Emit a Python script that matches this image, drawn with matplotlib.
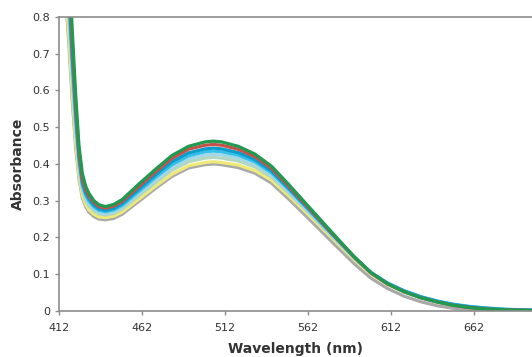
import matplotlib.pyplot as plt

wavelength = [416, 418, 420, 422, 424, 426, 428, 430, 433, 436, 440, 445, 450,
              460, 470, 480, 490, 500, 505, 510, 520, 530, 540, 550, 560, 570,
              580, 590, 600, 610, 620, 630, 640, 650, 660, 670, 680, 690, 700]

gray = [0.85, 0.72, 0.57, 0.445, 0.36, 0.308, 0.284, 0.269, 0.257, 0.250, 0.248, 0.252, 0.263,
        0.298, 0.333, 0.366, 0.389, 0.398, 0.400, 0.398, 0.390, 0.375, 0.348, 0.306, 0.262, 0.217,
        0.172, 0.128, 0.089, 0.061, 0.040, 0.025, 0.014, 0.007, 0.003, 0.001, 0.0, 0.0, 0.0]
yellow = [0.87, 0.74, 0.59, 0.46, 0.37, 0.315, 0.29, 0.275, 0.263, 0.256, 0.254, 0.258, 0.269,
          0.304, 0.339, 0.372, 0.395, 0.404, 0.406, 0.404, 0.397, 0.382, 0.356, 0.315, 0.272, 0.228,
          0.183, 0.139, 0.100, 0.072, 0.052, 0.037, 0.026, 0.017, 0.011, 0.007, 0.004, 0.003, 0.002]
pale_green = [0.91, 0.79, 0.63, 0.49, 0.39, 0.33, 0.302, 0.286, 0.272, 0.264, 0.261, 0.265, 0.277,
              0.313, 0.349, 0.383, 0.406, 0.416, 0.418, 0.416, 0.408, 0.392, 0.364, 0.322, 0.278, 0.233,
              0.187, 0.142, 0.102, 0.073, 0.052, 0.036, 0.025, 0.016, 0.010, 0.006, 0.004, 0.002, 0.001]
light_blue = [0.93, 0.81, 0.65, 0.50, 0.40, 0.336, 0.308, 0.292, 0.277, 0.269, 0.265, 0.270, 0.282,
              0.319, 0.356, 0.390, 0.414, 0.424, 0.426, 0.424, 0.416, 0.399, 0.370, 0.327, 0.282, 0.236,
              0.190, 0.145, 0.104, 0.075, 0.054, 0.038, 0.026, 0.017, 0.011, 0.007, 0.004, 0.003, 0.002]
cyan = [0.95, 0.84, 0.67, 0.52, 0.41, 0.343, 0.315, 0.299, 0.283, 0.274, 0.270, 0.275, 0.287,
        0.325, 0.363, 0.398, 0.422, 0.433, 0.435, 0.433, 0.424, 0.406, 0.376, 0.332, 0.286, 0.239,
        0.192, 0.146, 0.105, 0.076, 0.055, 0.039, 0.027, 0.018, 0.012, 0.008, 0.005, 0.003, 0.002]
blue = [0.97, 0.86, 0.69, 0.54, 0.42, 0.35, 0.322, 0.305, 0.288, 0.278, 0.274, 0.279, 0.292,
        0.331, 0.370, 0.406, 0.430, 0.441, 0.443, 0.441, 0.431, 0.412, 0.381, 0.336, 0.289, 0.241,
        0.193, 0.146, 0.104, 0.075, 0.054, 0.038, 0.026, 0.017, 0.011, 0.007, 0.004, 0.003, 0.002]
red = [1.0, 0.90, 0.72, 0.56, 0.43, 0.36, 0.33, 0.312, 0.295, 0.284, 0.280, 0.285, 0.298,
       0.338, 0.378, 0.415, 0.440, 0.451, 0.453, 0.451, 0.440, 0.420, 0.388, 0.341, 0.292, 0.243,
       0.194, 0.146, 0.103, 0.073, 0.052, 0.036, 0.024, 0.015, 0.009, 0.005, 0.003, 0.002, 0.001]
green = [1.05, 0.95, 0.76, 0.59, 0.45, 0.375, 0.34, 0.32, 0.30, 0.289, 0.284, 0.29, 0.303,
         0.345, 0.385, 0.423, 0.448, 0.460, 0.462, 0.460, 0.448, 0.427, 0.394, 0.346, 0.296, 0.246,
         0.196, 0.147, 0.104, 0.074, 0.052, 0.036, 0.024, 0.015, 0.009, 0.005, 0.003, 0.002, 0.001]

series = [gray, yellow, pale_green, light_blue, cyan, blue, red, green]
colors = ['#a9a9a9', '#eeea78', '#b2d6c0', '#a4d8e6', '#35c0ea', '#0a9ccb', '#c8504a', '#1f9a50']

x_ticks = [412, 462, 512, 562, 612, 662]
y_ticks = [0, 0.1, 0.2, 0.3, 0.4, 0.5, 0.6, 0.7, 0.8]

fig = plt.figure(figsize=(5.32, 3.57), dpi=100)
ax = fig.add_axes([0.111, 0.129, 0.889, 0.8235])

for vals, c in zip(series, colors):
    ax.plot(wavelength, vals, color=c, lw=2.3, solid_capstyle='round')

ax.set_xlim(412, 697)
ax.set_ylim(0, 0.8)
ax.set_xticks(x_ticks)
ax.set_yticks(y_ticks)
ax.set_yticklabels(['0' if v == 0 else f'{v:.1f}' for v in y_ticks])

for side in ['left', 'bottom', 'top']:
    ax.spines[side].set_color('#8c8c8c')
    ax.spines[side].set_linewidth(1.2)
ax.spines['right'].set_visible(False)

ax.tick_params(axis='both', colors='#8c8c8c', labelcolor='#333333',
               labelsize=8, length=3, width=1, direction='out')
ax.tick_params(axis='x', pad=6)

ax.set_xlabel('Wavelength (nm)', fontsize=10, fontweight='bold', color='#333333', labelpad=6)
ax.set_ylabel('Absorbance', fontsize=10, fontweight='bold', color='#333333', labelpad=5)

fig.savefig('out.png', dpi=100)
